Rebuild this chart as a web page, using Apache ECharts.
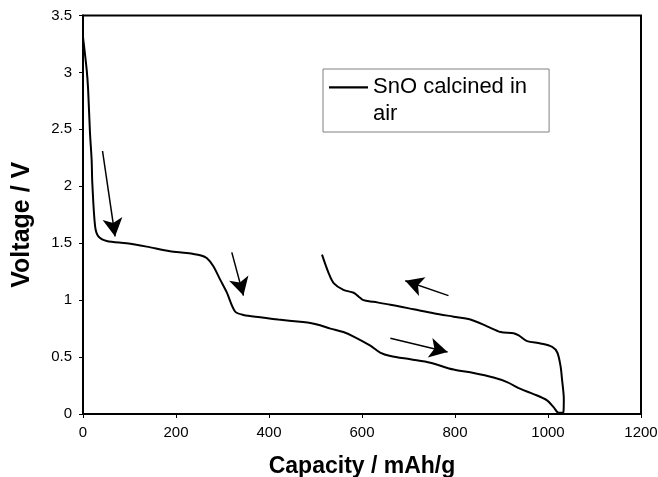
<!DOCTYPE html>
<html><head><meta charset="utf-8">
<script src="https://cdn.jsdelivr.net/npm/echarts@6/dist/echarts.min.js"></script>
<style>html,body{margin:0;padding:0;background:#fff}#c{width:658px;height:477px}</style>
</head><body><div id="c"></div>
<script>
// Capacity (mAh/g) and voltage (V)
const capacity = [0, 8, 11, 15, 18.6, 20, 26, 33, 51, 94, 137, 187, 223, 252, 266, 280, 295, 309, 327, 345, 381, 420, 467, 489, 510, 532, 560, 582, 618, 639, 661, 704, 747, 797, 840, 883, 912, 941, 969, 998, 1012, 1023,
  1033, 1034, 1030, 1027, 1020, 1009, 984, 955, 937, 926, 898, 869, 833, 797, 754, 711, 661, 625, 603, 593, 582, 560, 539, 528, 514];
const voltage = [3.31, 3.02, 2.85, 2.47, 2.23, 2.03, 1.65, 1.56, 1.52, 1.50, 1.47, 1.43, 1.415, 1.395, 1.37, 1.30, 1.18, 1.07, 0.90, 0.87, 0.85, 0.83, 0.81, 0.80, 0.78, 0.75, 0.72, 0.68, 0.60, 0.54, 0.51, 0.48, 0.45, 0.39, 0.36, 0.32, 0.28, 0.22, 0.175, 0.12, 0.06, 0.01,
  0.015, 0.13, 0.31, 0.42, 0.54, 0.59, 0.62, 0.64, 0.69, 0.71, 0.72, 0.77, 0.83, 0.855, 0.885, 0.92, 0.96, 0.985, 1.00, 1.03, 1.065, 1.09, 1.15, 1.24, 1.40];
const seriesName = 'SnO calcined in air';
const xTicks = [0, 200, 400, 600, 800, 1000, 1200];
const yTicks = [0, 0.5, 1, 1.5, 2, 2.5, 3, 3.5];
// Arrow annotations [tail, head] in data units
const arrows = [
  [[42, 2.31], [69, 1.56]],
  [[320, 1.42], [345, 1.04]],
  [[786, 1.04], [693, 1.17]],
  [[661, 0.665], [784, 0.545]]
];

const chart = echarts.init(document.getElementById('c'));
const F = 'Liberation Sans, Arial, sans-serif';
chart.setOption({
  animation: false,
  backgroundColor: '#fff',
  grid: { left: 83, right: 17, top: 15.5, bottom: 63, containLabel: false, outerBoundsMode: 'none',
    show: true, borderColor: '#000', borderWidth: 2, backgroundColor: '#fff' },
  legend: {
    left: 323, top: 69, orient: 'vertical',
    borderColor: '#808080', borderWidth: 1, borderRadius: 0,
    padding: [4, 22, 5, 6],
    itemWidth: 39, itemHeight: 27.4, itemGap: 0,
    symbolKeepAspect: false,
    icon: 'path://M0,0L39,0L39,2L0,2Z M0,25.4L0.01,25.4L0.01,25.41Z',
    itemStyle: { borderWidth: 0 },
    textStyle: { fontFamily: F, fontSize: 22, color: '#000', lineHeight: 27 },
    formatter: () => 'SnO calcined in\nair',
    data: [{ name: seriesName, itemStyle: { color: '#000', borderWidth: 0 } }]
  },
  xAxis: {
    type: 'value', min: 0, max: 1200, interval: 200,
    name: 'Capacity / mAh/g', nameLocation: 'middle', nameGap: 41,
    nameTextStyle: { fontFamily: F, fontSize: 23, fontWeight: 'bold', color: '#000' },
    axisLine: { lineStyle: { color: '#000', width: 2 } },
    axisTick: { show: true, length: 4, lineStyle: { color: '#000' } },
    axisLabel: { fontFamily: F, fontSize: 15, color: '#000', margin: 11,
      formatter: v => xTicks.includes(v) ? String(v) : '' },
    splitLine: { show: false }
  },
  yAxis: {
    type: 'value', min: 0, max: 3.5, interval: 0.5,
    name: 'Voltage / V', nameLocation: 'middle', nameGap: 48, nameRotate: 90,
    nameTextStyle: { fontFamily: F, fontSize: 25, fontWeight: 'bold', color: '#000', padding: [0, 20, 0, 0] },
    axisLine: { show: true, lineStyle: { color: '#000', width: 2 } },
    axisTick: { show: true, length: 4, lineStyle: { color: '#000' } },
    axisLabel: { fontFamily: F, fontSize: 15, color: '#000', margin: 11,
      formatter: v => yTicks.includes(v) ? String(v) : '' },
    splitLine: { show: false }
  },
  series: [{
    name: seriesName, type: 'line', showSymbol: false, symbol: 'none', smooth: 0.3,
    lineStyle: { color: '#000', width: 2 },
    itemStyle: { color: '#000' },
    data: capacity.map((c, i) => [c, voltage[i]]),
    markLine: {
      silent: true, animation: false,
      symbol: ['none', 'arrow'], symbolSize: [15, 18],
      label: { show: false },
      lineStyle: { color: '#000', width: 1.5, type: 'solid' },
      data: arrows.map(a => [{ coord: a[0] }, { coord: a[1] }])
    }
  }]
});
</script></body></html>
